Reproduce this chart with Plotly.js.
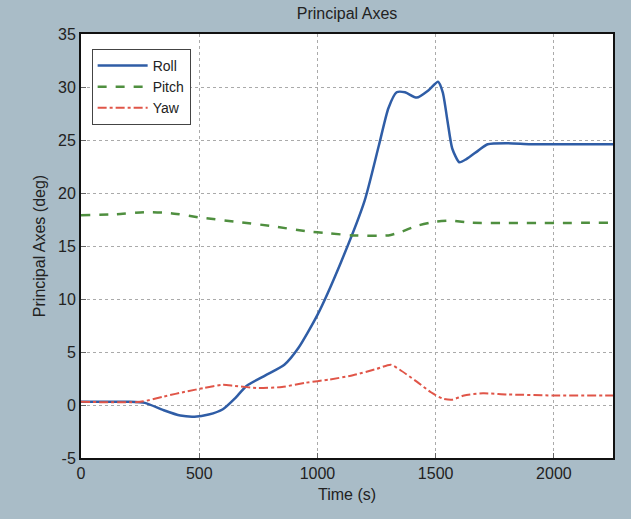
<!DOCTYPE html>
<html>
<head>
<meta charset="utf-8">
<script src="https://cdn.plot.ly/plotly-3.0.1.min.js"></script>
<style>
html,body{margin:0;padding:0;background:#a9bcc7;}
#chart{width:631px;height:519px;}
</style>
</head>
<body>
<div id="chart"></div>
<script>
const rollT = [0,100,200,270,350,420,480,540,600,650,700,780,860,920,1000,1100,1200,1260,1300,1335,1370,1420,1470,1510,1530,1550,1570,1600,1630,1680,1720,1800,1900,2000,2250];
const rollV = [0.3,0.3,0.3,0.2,-0.5,-1.0,-1.1,-0.9,-0.4,0.6,1.8,2.8,3.8,5.4,8.5,13.5,19.3,24.5,28.0,29.5,29.5,29.0,29.7,30.5,29.5,26.8,24.2,22.9,23.2,24.0,24.6,24.7,24.6,24.6,24.6];
const pitchT = [0,150,280,380,500,650,800,950,1050,1150,1300,1350,1420,1500,1560,1650,2250];
const pitchV = [17.9,18.0,18.2,18.1,17.7,17.3,16.9,16.4,16.2,16.0,16.0,16.3,16.9,17.3,17.4,17.2,17.2];
const yawT = [0,250,350,450,520,600,650,750,850,950,1050,1150,1250,1310,1350,1420,1480,1530,1570,1620,1700,1800,2000,2250];
const yawV = [0.3,0.3,0.8,1.3,1.6,1.9,1.8,1.6,1.7,2.1,2.4,2.8,3.4,3.8,3.3,2.2,1.2,0.6,0.5,0.9,1.1,1.0,0.9,0.9];
const xTicks = [0,500,1000,1500,2000];
const yTicks = [-5,0,5,10,15,20,25,30,35];

const FONT = '"Liberation Sans", Arial, sans-serif';

const traces = [
  {x: rollT, y: rollV, name: 'Roll', mode: 'lines', line: {color: '#2f5da6', width: 2.5, shape: 'spline', smoothing: 0.6}},
  {x: pitchT, y: pitchV, name: 'Pitch', mode: 'lines', line: {color: '#4f8f3f', width: 2.5, dash: 'dash', shape: 'spline', smoothing: 0.6}},
  {x: yawT, y: yawV, name: 'Yaw', mode: 'lines', line: {color: '#e05548', width: 2, dash: 'dashdot', shape: 'spline', smoothing: 0.6}}
];

const axisCommon = {
  showline: true, linecolor: '#111', linewidth: 2, mirror: true,
  ticks: 'inside', ticklen: 5, tickcolor: '#666',
  showgrid: true, gridcolor: '#aaa', griddash: 'dot', gridwidth: 1,
  zeroline: false,
  tickfont: {family: FONT, size: 16, color: '#222'}
};

const layout = {
  width: 631, height: 519,
  paper_bgcolor: '#a9bcc7', plot_bgcolor: '#ffffff',
  margin: {l: 81, r: 18, t: 34, b: 61},
  font: {family: FONT, color: '#222'},
  title: {text: 'Principal Axes', font: {family: FONT, size: 16, color: '#222'}, x: 0.55, xanchor: 'center', y: 0.975, yanchor: 'middle'},
  xaxis: Object.assign({}, axisCommon, {range: [0, 2250], tickvals: xTicks, ticktext: xTicks.map(String),
    title: {text: 'Time (s)', font: {family: FONT, size: 16, color: '#222'}, standoff: 8}}),
  yaxis: Object.assign({}, axisCommon, {range: [-5, 35], tickvals: yTicks, ticktext: yTicks.map(String),
    title: {text: 'Principal Axes (deg)', font: {family: FONT, size: 16, color: '#222'}, standoff: 8}}),
  legend: {x: 0.02, y: 0.965, xanchor: 'left', yanchor: 'top', bgcolor: '#ffffff', bordercolor: '#444', borderwidth: 1,
    font: {family: FONT, size: 14, color: '#222'}, itemwidth: 50, tracegroupgap: 0},
  showlegend: true
};

Plotly.newPlot('chart', traces, layout, {displayModeBar: false, staticPlot: true});
</script>
</body>
</html>
